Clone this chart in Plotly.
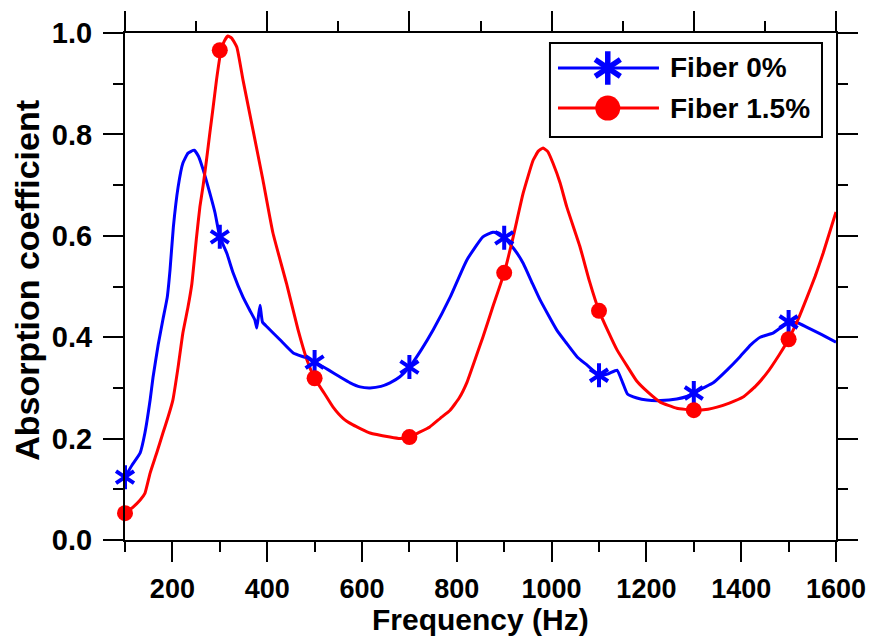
import plotly.graph_objects as go

# ---------------- data ----------------
freq_fiber0 = [100, 115, 132, 142, 153, 159, 170, 180, 189, 195, 202, 212, 222, 233, 246, 255, 265, 279,
               290, 300, 315, 328, 349, 365, 374, 378, 382, 385, 390, 400, 427, 455, 480, 500, 530, 553,
               575, 596, 617, 640, 659, 680, 700, 725, 750, 786, 821, 855, 876, 890, 900, 920, 940, 960,
               976, 1011, 1030, 1054, 1075, 1100, 1120, 1138, 1150, 1160, 1180, 1201, 1230, 1264, 1285,
               1300, 1320, 1341, 1370, 1397, 1420, 1440, 1467, 1485, 1500, 1520, 1538, 1570, 1600]
abs_fiber0 = [0.124, 0.148, 0.172, 0.211, 0.276, 0.320, 0.385, 0.435, 0.478, 0.533, 0.617, 0.696, 0.743,
              0.763, 0.769, 0.757, 0.730, 0.684, 0.645, 0.598, 0.565, 0.527, 0.479, 0.450, 0.434, 0.418,
              0.445, 0.463, 0.430, 0.420, 0.395, 0.369, 0.360, 0.351, 0.335, 0.322, 0.310, 0.302, 0.300,
              0.303, 0.310, 0.322, 0.341, 0.375, 0.414, 0.479, 0.552, 0.598, 0.607, 0.605, 0.596, 0.575,
              0.546, 0.505, 0.473, 0.414, 0.390, 0.361, 0.345, 0.325, 0.328, 0.335, 0.310, 0.288, 0.280,
              0.276, 0.275, 0.278, 0.283, 0.290, 0.300, 0.310, 0.335, 0.361, 0.385, 0.400, 0.408, 0.420,
              0.430, 0.428, 0.420, 0.405, 0.390]

freq_fiber15 = [100, 117, 132, 142, 153, 167, 180, 191, 201, 212, 222, 233, 241, 251, 258, 265, 272, 279,
                286, 293, 302, 310, 317, 325, 336, 349, 370, 391, 412, 441, 465, 484, 500, 520, 539, 560,
                581, 617, 659, 680, 700, 720, 743, 765, 786, 805, 821, 840, 855, 876, 900, 919, 940, 961,
                972, 982, 992, 1003, 1018, 1032, 1060, 1080, 1100, 1120, 1138, 1160, 1180, 1205, 1229,
                1264, 1300, 1330, 1349, 1375, 1404, 1430, 1454, 1480, 1500, 1520, 1539, 1556, 1573, 1600]
abs_fiber15 = [0.053, 0.065, 0.079, 0.092, 0.132, 0.172, 0.211, 0.243, 0.276, 0.341, 0.408, 0.460, 0.505,
               0.598, 0.657, 0.700, 0.750, 0.803, 0.854, 0.907, 0.962, 0.985, 0.994, 0.990, 0.972, 0.907,
               0.809, 0.710, 0.606, 0.505, 0.415, 0.355, 0.319, 0.290, 0.262, 0.240, 0.227, 0.211, 0.203,
               0.200, 0.203, 0.212, 0.223, 0.240, 0.256, 0.280, 0.310, 0.360, 0.400, 0.460, 0.527, 0.598,
               0.684, 0.749, 0.767, 0.773, 0.766, 0.743, 0.704, 0.657, 0.578, 0.510, 0.452, 0.410, 0.375,
               0.342, 0.313, 0.290, 0.272, 0.260, 0.256, 0.258, 0.262, 0.270, 0.282, 0.303, 0.329, 0.365,
               0.396, 0.435, 0.479, 0.520, 0.566, 0.647]

marker_freq = [100, 300, 500, 700, 900, 1100, 1300, 1500]
marker_fiber0 = [0.124, 0.598, 0.351, 0.341, 0.596, 0.325, 0.290, 0.430]
marker_fiber15 = [0.053, 0.966, 0.319, 0.203, 0.527, 0.452, 0.256, 0.396]

series_names = ["Fiber 0%", "Fiber 1.5%"]
x_title = "Frequency (Hz)"
y_title = "Absorption coefficient"
x_tickvals = [200, 400, 600, 800, 1000, 1200, 1400, 1600]
x_minor = [100, 300, 500, 700, 900, 1100, 1300, 1500]
top_tickvals = [100, 400, 700, 1000, 1300, 1600]
top_minor = [250, 550, 850, 1150, 1450]
y_tickvals = [0.0, 0.2, 0.4, 0.6, 0.8, 1.0]
y_minor = [0.1, 0.3, 0.5, 0.7, 0.9]

BLUE = "#0000FF"
RED = "#FF0000"
FONT = "Liberation Sans, Arial, sans-serif"

fig = go.Figure()

# curves
fig.add_trace(go.Scatter(x=freq_fiber0, y=abs_fiber0, mode="lines",
                         line=dict(color=BLUE, width=3, shape="spline", smoothing=0.4), showlegend=False))
fig.add_trace(go.Scatter(x=freq_fiber15, y=abs_fiber15, mode="lines",
                         line=dict(color=RED, width=3, shape="spline", smoothing=0.4), showlegend=False))

# markers
for sym in ["y-up-open", "y-down-open"]:
    fig.add_trace(go.Scatter(x=marker_freq, y=marker_fiber0, mode="markers", cliponaxis=False,
                             marker=dict(symbol=sym, size=15, color=BLUE,
                                         line=dict(color=BLUE, width=4)),
                             showlegend=False))
fig.add_trace(go.Scatter(x=marker_freq, y=marker_fiber15, mode="markers", cliponaxis=False,
                         marker=dict(symbol="circle", size=16, color=RED, line=dict(width=0)),
                         showlegend=False))

# ---------------- manual legend ----------------
lx0, lx1 = 0.609, 0.751
mx = 0.679
ly = [0.931, 0.852]
colors = [BLUE, RED]
shapes = [dict(type="rect", xref="paper", yref="paper", x0=0.5977, x1=0.9803, y0=0.7949, y1=0.9803,
               line=dict(color="black", width=2), fillcolor="white", layer="below")]
for i in range(2):
    fig.add_trace(go.Scatter(x=[lx0, lx1], y=[ly[i], ly[i]], xaxis="x3", yaxis="y3", mode="lines",
                             line=dict(color=colors[i], width=3), hoverinfo="skip", showlegend=False))
for sym in ["y-up-open", "y-down-open"]:
    fig.add_trace(go.Scatter(x=[mx], y=[ly[0]], xaxis="x3", yaxis="y3", mode="markers",
                             cliponaxis=False,
                             marker=dict(symbol=sym, size=21, color=BLUE, line=dict(color=BLUE, width=5.5)),
                             showlegend=False))
fig.add_trace(go.Scatter(x=[mx], y=[ly[1]], xaxis="x3", yaxis="y3", mode="markers", cliponaxis=False,
                         marker=dict(symbol="circle", size=25, color=RED, line=dict(width=0)),
                         showlegend=False))
annotations = []
for i in range(2):
    annotations.append(dict(x=0.764, y=ly[i], xref="paper", yref="paper", xanchor="left", yanchor="middle",
                            text=series_names[i], showarrow=False,
                            font=dict(family=FONT, size=28, color="black", weight="bold")))
# axis titles
annotations.append(dict(x=0.5, y=-0.156, xref="paper", yref="paper", xanchor="center", yanchor="middle",
                        text=x_title, showarrow=False,
                        font=dict(family=FONT, size=30, color="black", weight="bold")))
annotations.append(dict(x=-0.1380, y=0.513, xref="paper", yref="paper", xanchor="center", yanchor="middle",
                        text=y_title, showarrow=False, textangle=-90,
                        font=dict(family=FONT, size=34, color="black", weight="bold")))

# dummy trace for top axis
fig.add_trace(go.Scatter(x=[100, 1600], y=[0, 0], xaxis="x2", yaxis="y", mode="markers",
                         marker=dict(opacity=0), hoverinfo="skip", showlegend=False))

xtickfont = dict(family=FONT, size=27, color="black", weight="bold")
ytickfont = dict(family=FONT, size=29, color="black", weight="bold")
fig.update_layout(
    width=871, height=641,
    margin=dict(l=125, r=35, t=33, b=101, autoexpand=False),
    plot_bgcolor="white", paper_bgcolor="white",
    showlegend=False,
    shapes=shapes, annotations=annotations,
    xaxis=dict(range=[100, 1600], tickmode="array", tickvals=x_tickvals, automargin=False,
               ticks="outside", ticklen=20, tickwidth=2, tickcolor="black", ticklabelstandoff=4,
               minor=dict(tickmode="array", tickvals=x_minor, ticks="outside", ticklen=10, tickwidth=2,
                          tickcolor="black", showgrid=False),
               showline=True, linecolor="black", linewidth=2, showgrid=False, zeroline=False,
               tickfont=xtickfont),
    xaxis2=dict(range=[100, 1600], overlaying="x", side="top", anchor="y", tickmode="array",
                automargin=False,
                tickvals=top_tickvals, ticks="outside", ticklen=20, tickwidth=2, tickcolor="black",
                minor=dict(tickmode="array", tickvals=top_minor, ticks="outside", ticklen=10, tickwidth=2,
                           tickcolor="black", showgrid=False),
                showticklabels=False, showline=True, linecolor="black", linewidth=2,
                showgrid=False, zeroline=False),
    yaxis=dict(range=[0, 1], tickmode="array", tickvals=y_tickvals, tickformat=".1f", automargin=False,
               ticks="outside", ticklen=20, tickwidth=2, tickcolor="black", ticklabelstandoff=5,
               minor=dict(tickmode="array", tickvals=y_minor, ticks="outside", ticklen=10, tickwidth=2,
                          tickcolor="black", showgrid=False),
               showline=True, linecolor="black", linewidth=2, mirror="ticks",
               showgrid=False, zeroline=False, tickfont=ytickfont),
    xaxis3=dict(range=[0, 1], overlaying="x", visible=False, anchor="y3", automargin=False),
    yaxis3=dict(range=[0, 1], overlaying="y", visible=False, anchor="x3", automargin=False),
)

fig.write_html("out.html", config={"displayModeBar": False},
               post_script="document.body.style.margin='0px';")
